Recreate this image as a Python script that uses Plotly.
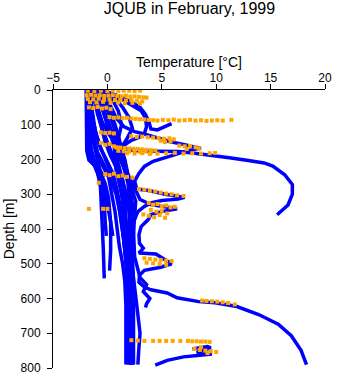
import plotly.graph_objects as go

# ---------------- blue profiles (temperature [°C], depth [m]) ----------------
b1_t = [-1.95, -1.95, -1.95, -1.9, -1.7, -1.1, -0.67, -0.58, -0.46, -0.38, -0.29]
b1_d = [0, 60, 120, 174, 202, 219, 258, 314, 379, 455, 542]

b2_t = [-1.9, -1.85, -1.8, -1.6, -1.2, -0.6, -0.2, 0.1, 0.3, 0.3, 0.2]
b2_d = [0, 80, 140, 190, 215, 240, 270, 310, 380, 460, 520]

b3_t = [-1.9, -1.8, -1.6, -1.3, -0.9, -0.4, 0.1, 0.4, 0.7, 0.9, 1.1, 1.4, 1.6, 1.7, 1.7, 1.7]
b3_d = [0, 50, 100, 150, 190, 220, 250, 300, 350, 400, 450, 500, 550, 620, 700, 790]

b4_t = [-1.7, -1.5, -1.3, -1.0, -0.6, -0.1, 0.5, 0.9, 1.2, 1.4, 1.6, 1.8, 1.9, 2.0, 2.0]
b4_d = [0, 40, 90, 130, 170, 200, 240, 290, 340, 400, 460, 520, 600, 700, 790]

b5_t = [-1.5, -1.2, -0.9, -0.5, 0.0, 0.5, 1.0, 1.4, 1.6, 1.8, 2.0, 2.1, 2.2, 2.2]
b5_d = [0, 30, 70, 110, 150, 190, 230, 280, 330, 400, 480, 560, 680, 790]

b6_t = [-1.2, -0.8, -0.3, 0.2, 0.6, 1.0, 1.5, 1.9, 2.0, 2.1, 2.3, 2.4, 2.4, 2.4]
b6_d = [0, 25, 60, 100, 140, 180, 220, 270, 330, 400, 480, 560, 680, 790]

b7_t = [-0.8, -0.3, 0.2, 0.6, 1.0, 1.3, 1.6, 1.9, 2.1, 2.0, 2.1, 2.4, 2.6, 2.8, 3.0, 2.9, 2.8]
b7_d = [0, 20, 50, 90, 130, 170, 210, 250, 300, 380, 460, 540, 600, 650, 700, 740, 790]

b8_t = [-1.0, 0.2, 1.2, 2.2, 3.0, 3.5, 3.8, 4.0, 4.6, 5.3, 5.9]
b8_d = [0, 8, 20, 35, 50, 70, 90, 112, 115, 106, 97]

b9_t = [-0.6, 0.5, 1.5, 2.5, 3.1, 3.5, 3.6, 3.4, 3.0, 2.2, 1.5]
b9_d = [0, 12, 30, 48, 60, 80, 105, 125, 135, 145, 160]

b10_t = [-1.4, -1.0, -0.5, 0.2, 1.0, 2.0, 3.2, 4.5, 5.5, 6.6, 8.0, 9.7, 11.2, 12.8,
         14.4, 15.2, 16.3, 17.0, 17.0, 16.6, 15.6]
b10_d = [0, 40, 90, 130, 160, 172, 176, 176, 176, 177, 182, 188, 195, 202,
         210, 219, 244, 272, 300, 331, 359]

b11_t = [-0.4, 0.2, 0.8, 1.5, 2.5, 3.3, 4.5, 5.8, 7.2, 8.3, 8.6, 8.1, 7.0, 6.0, 5.0, 4.2,
         3.4, 2.9, 2.5, 2.7, 3.8, 5.3, 7.1, 6.5, 5.0, 4.0, 3.4, 2.8, 2.4, 2.1, 2.0, 2.1, 2.2, 2.2]
b11_d = [0, 40, 80, 105, 120, 126, 138, 149, 158, 164, 168, 170, 178, 188, 197, 205,
         220, 240, 262, 285, 289, 300, 309, 314, 318, 325, 335, 350, 380, 420, 480, 560, 680, 790]

b12_t = [-1.1, -0.7, -0.2, 0.5, 1.2, 2.0, 2.6, 3.0, 4.0, 5.5, 6.4, 5.0, 4.0, 3.75, 3.1, 2.9,
         2.95, 3.3, 2.9, 4.45, 5.2, 5.9, 4.9, 3.4, 2.95, 2.9, 3.4, 4.0, 5.5, 6.4, 8.4, 9.9,
         11.9, 13.9, 15.7, 16.9, 17.8, 18.3]
b12_d = [0, 30, 80, 140, 200, 250, 290, 315, 330, 338, 342, 350, 358, 373, 393, 416,
         441, 455, 469, 472, 485, 500, 510, 519, 533, 553, 567, 575, 584, 598, 609, 612,
         623, 646, 674, 707, 749, 790]

b13_t = [-0.9, -0.4, 0.3, 1.0, 1.6, 2.0, 2.3, 2.4, 2.5, 3.0, 3.6, 3.3, 3.9, 3.6, 3.5]
b13_d = [0, 30, 80, 140, 200, 260, 330, 400, 480, 540, 560, 580, 600, 615, 626]

b14_t = [7.8, 9.2, 9.5, 8.8, 8.2, 9.0, 9.6, 8.5, 7.0, 5.5, 4.4]
b14_d = [745, 738, 742, 750, 755, 756, 760, 763, 768, 778, 792]

b15_t = [-1.8, -1.75, -1.7, -1.6, -1.4, -1.0, -0.5, -0.3, -0.2, -0.1]
b15_d = [0, 50, 100, 150, 190, 230, 270, 320, 380, 420]

b16_t = [-1.6, -1.4, -1.1, -0.7, -0.3, 0.2, 0.6, 0.9, 1.2, 1.5, 1.8, 1.9, 1.9]
b16_d = [0, 60, 120, 160, 190, 230, 260, 300, 360, 430, 520, 650, 790]

b17_t = [-1.3, -1.0, -0.6, -0.2, 0.3, 0.9, 1.4, 1.7, 1.6, 1.8, 2.1, 2.3, 2.3]
b17_d = [0, 50, 100, 150, 190, 230, 260, 300, 360, 450, 540, 650, 790]

b18_t = [-1.9, -1.9, -1.85, -1.8, -1.6, -1.3, -0.9, -0.6, -0.4]
b18_d = [0, 40, 100, 150, 185, 210, 240, 280, 330]

b19_t = [-1.7, -1.6, -1.4, -1.2, -0.9, -0.4, 0.2, 0.8, 1.2, 1.5, 1.8, 2.0, 2.1]
b19_d = [0, 40, 90, 140, 180, 210, 250, 300, 360, 430, 520, 640, 790]

b20_t = [-1.0, -0.5, 0.0, 0.4, 0.7, 0.9, 1.2, 1.7, 2.2, 2.6, 2.4, 2.2, 2.3, 2.3]
b20_d = [0, 15, 40, 80, 120, 160, 200, 240, 280, 320, 400, 500, 620, 790]

b21_t = [-0.5, 0.0, 0.5, 1.0, 1.3, 1.0, 0.6, 0.8, 1.3, 1.7, 2.0, 2.2]
b21_d = [0, 10, 30, 60, 100, 140, 180, 230, 300, 400, 550, 790]

b22_t = [-1.5, -1.5, -1.4, -1.2, -0.9, -0.6, -0.3, 0.0, 0.3, 0.5]
b22_d = [0, 60, 110, 160, 200, 240, 280, 330, 380, 420]

b23_t = [-1.85, -1.8, -1.7, -1.5, -1.2, -0.8, -0.3]
b23_d = [0, 70, 130, 170, 200, 225, 250]

b24_t = [-1.1, -0.6, -0.1, 0.4, 0.9, 1.4, 1.9, 2.2]
b24_d = [0, 40, 90, 140, 200, 260, 330, 400]

b25_t = [-0.2, 0.6, 1.4, 2.0, 2.3, 1.8, 1.2]
b25_d = [0, 20, 50, 80, 110, 140, 170]

blue_profiles = [
    (b1_t, b1_d), (b2_t, b2_d), (b3_t, b3_d), (b4_t, b4_d), (b5_t, b5_d),
    (b6_t, b6_d), (b7_t, b7_d), (b8_t, b8_d), (b9_t, b9_d), (b10_t, b10_d),
    (b11_t, b11_d), (b12_t, b12_d), (b13_t, b13_d), (b14_t, b14_d),
    (b15_t, b15_d), (b16_t, b16_d), (b17_t, b17_d), (b18_t, b18_d),
    (b19_t, b19_d), (b20_t, b20_d), (b21_t, b21_d), (b22_t, b22_d),
    (b23_t, b23_d), (b24_t, b24_d), (b25_t, b25_d),
]

# ---------------- orange flagged points ----------------
o0_t = [-1.8, -1.2, -0.6, 0.0, 0.5, 1.0, 1.5, 2.0, 2.5, 3.0]
o0_d = [2, 3, 2, 3, 2, 3, 2, 2, 3, 2]

o1_t = [-1.9, -1.5, -1.1, -0.7, -0.3, 0.1, 0.5, 0.9, 1.3, 1.7, 2.1, 2.5, 2.9, 3.3, 3.6,
        -1.8, -1.3, -0.8, -0.3, 0.2, 0.7, 1.2, 1.7, 2.2, 2.7, 3.2,
        -1.6, -1.0, -0.4, 0.3, 1.0, 1.6, 2.3, 3.0]
o1_d = [15, 14, 16, 15, 17, 16, 15, 17, 18, 16, 19, 18, 20, 21, 22,
        26, 27, 25, 28, 27, 29, 28, 30, 29, 31, 33,
        35, 36, 34, 37, 36, 38, 37, 39]

o2_t = [-1.7, -1.3, -0.9, -0.5, -0.1, 0.3]
o2_d = [50, 52, 49, 53, 51, 55]

o3_t = [0.2, 0.6, 1.0, 1.4, 1.8, 2.2, 2.6, 3.0, 3.4, 3.8, 4.2, 4.6, 5.1, 5.6, 6.1, 6.6,
        7.1, 7.6, 8.1, 8.6, 9.1, 9.6, 10.1, 10.6, 11.4]
o3_d = [78, 80, 79, 81, 80, 82, 83, 84, 85, 86, 87, 88, 86, 87, 85, 88,
        87, 86, 88, 87, 89, 88, 87, 88, 86]

o4_t = [-0.6, -0.2, 0.2, 0.6]
o4_d = [122, 124, 123, 125]

o5_t = [2.2, 2.7, 3.2, 3.7, 4.2, 4.7, 5.2, 5.7, 6.1, 4.9, 5.3, 5.8, 6.6, 7.1, 7.6, 8.1, 8.4, 7.3]
o5_d = [133, 135, 134, 136, 137, 138, 140, 139, 142, 146, 150, 148, 160, 162, 161, 165, 168, 170]

o6_t = [-0.6, -0.2, 0.2, 0.6, 1.0]
o6_d = [152, 158, 155, 162, 166]

o7_t = [0.8, 1.2, 1.6, 2.0, 2.4, 2.8, 3.2, 3.6, 4.0, 4.4, 1.0, 1.5, 2.0, 2.5, 3.0, 3.5, 4.0,
        1.8, 2.5, 3.2, 3.9, 4.6, 5.4, 6.2, 7.0, 7.8, 8.6, 9.4, 9.9]
o7_d = [165, 166, 167, 168, 169, 170, 171, 172, 173, 174, 175, 176, 177, 176, 178, 177, 179,
        182, 183, 182, 184, 183, 182, 181, 183, 182, 183, 182, 181]

o8_t = [-0.2, 0.2, 0.6, 1.0, 1.4, 1.8, 2.3, -0.8, -1.7, -0.4, 0.0]
o8_d = [242, 245, 241, 248, 246, 250, 252, 267, 342, 342, 342]

o9_t = [2.9, 3.4, 3.9, 4.4, 4.9, 5.4, 5.9, 6.4, 7.0]
o9_d = [285, 287, 290, 292, 295, 298, 300, 303, 305]

o10_t = [3.8, 4.2, 4.6, 5.0, 5.4, 5.8, 6.2, 4.0, 4.5, 5.0, 5.5, 3.3, 3.8, 4.3, 4.8, 5.3]
o10_d = [325, 330, 328, 335, 332, 338, 336, 345, 350, 348, 355, 358, 362, 366, 360, 368]

o11_t = [3.4, 3.9, 4.4, 4.9, 5.4, 5.9, 3.6, 4.2, 4.8, 5.4]
o11_d = [484, 486, 488, 489, 491, 492, 497, 499, 501, 503]

o12_t = [8.7, 9.1, 9.6, 10.1, 10.6, 11.1, 11.7]
o12_d = [606, 607, 608, 609, 611, 613, 617]

o13_t = [2.2, 2.8, 3.4, 4.2, 4.8, 5.4, 6.0, 6.7, 7.4, 7.8, 8.2, 8.6, 9.0, 9.4,
         8.0, 8.5, 9.0, 9.5, 10.0, 8.6, 9.2]
o13_d = [720, 721, 722, 722, 722, 722, 722, 722, 722, 723, 723, 724, 724, 725,
         745, 748, 750, 752, 754, 740, 757]

orange_sets = [
    (o0_t, o0_d), (o1_t, o1_d), (o2_t, o2_d), (o3_t, o3_d), (o4_t, o4_d),
    (o5_t, o5_d), (o6_t, o6_d), (o7_t, o7_d), (o8_t, o8_d), (o9_t, o9_d),
    (o10_t, o10_d), (o11_t, o11_d), (o12_t, o12_d), (o13_t, o13_d),
]

x_ticks = [-5, 0, 5, 10, 15, 20]
y_ticks = [0, 100, 200, 300, 400, 500, 600, 700, 800]

fig = go.Figure()
for t, d in blue_profiles:
    fig.add_trace(go.Scatter(x=t, y=d, mode="lines",
                             line=dict(color="#0000FF", width=3.5),
                             hoverinfo="skip"))
for t, d in orange_sets:
    fig.add_trace(go.Scatter(x=t, y=d, mode="markers",
                             marker=dict(color="#FFA500", size=4, symbol="square",
                                         line=dict(width=0)),
                             hoverinfo="skip"))

fig.update_layout(
    width=341, height=384,
    margin=dict(l=47, r=9, t=90, b=9),
    paper_bgcolor="white", plot_bgcolor="white",
    showlegend=False,
    font=dict(family="Liberation Sans, Arial, sans-serif", size=12, color="black"),
    title=dict(text="JQUB in February, 1999", x=0.5557, xanchor="center",
               y=1 - 8 / 384, yanchor="middle", yref="container",
               font=dict(size=16)),
    xaxis=dict(side="top", range=[-5, 20], tickvals=x_ticks, ticks="outside",
               ticklen=5, tickcolor="black", showline=True, linecolor="black",
               linewidth=1, showgrid=False, zeroline=False, ticklabelstandoff=-3,
               title=dict(text="Temperature [°C]", standoff=0)),
    yaxis=dict(range=[800, 0], tickvals=y_ticks, ticks="outside", ticklen=5,
               tickcolor="black", showline=True, linecolor="black", linewidth=1,
               showgrid=False, zeroline=False, ticklabelstandoff=4,
               title=dict(text="Depth [m]", standoff=2)),
)

fig.write_html("out.html")
